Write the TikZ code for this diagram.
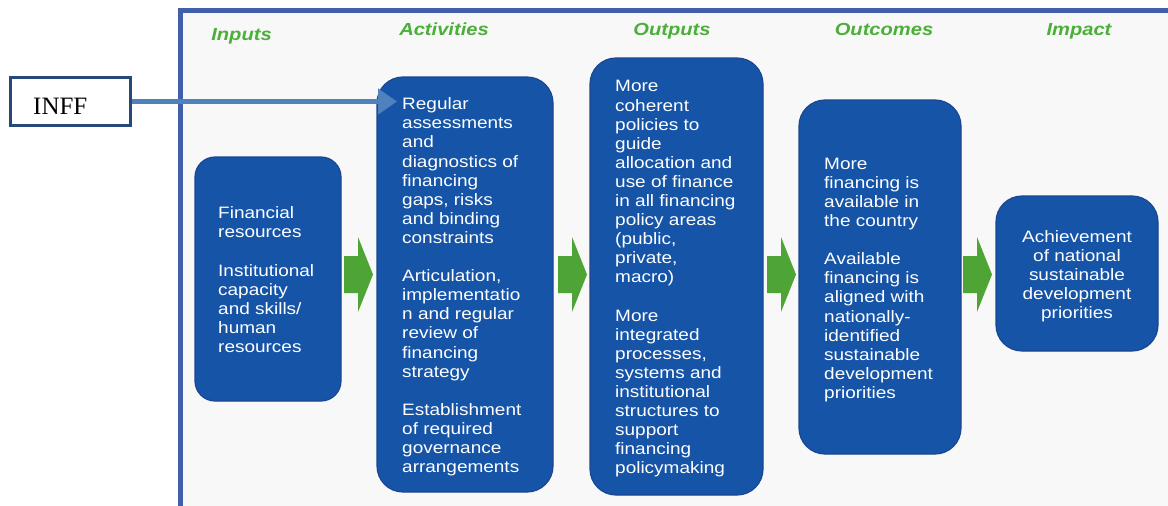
\documentclass[tikz,border=0pt]{standalone}
\usepackage{fontspec}
\setmainfont{Liberation Serif}
\newfontfamily\boxfont{Liberation Sans}[FakeStretch=1.15]
\usetikzlibrary{arrows.meta}
\definecolor{boxblue}{HTML}{1654A8}
\definecolor{boxedge}{HTML}{1C4690}
\definecolor{framec}{HTML}{4060AC}
\definecolor{bgc}{HTML}{F8F8F8}
\definecolor{garc}{HTML}{4EA536}
\definecolor{hdrc}{HTML}{4CAF3A}
\definecolor{inffarr}{HTML}{4F81BD}
\definecolor{inffedge}{HTML}{27497A}
\newcommand\mytopstrut{\rule{0pt}{13pt}}
\begin{document}
\begin{tikzpicture}[x=1pt,y=-1pt,
  stage/.style={draw=boxedge, line width=1.2pt, fill=boxblue, rounded corners=#1, inner sep=0pt},
  stage/.default=26pt,
  boxtext/.style={text=white, font=\boxfont\fontsize{16.5}{19.1}\selectfont, inner sep=0pt},
  hdr/.style={text=hdrc, font=\boxfont\bfseries\itshape\fontsize{17.5}{20}\selectfont, inner sep=0pt, anchor=base},
  garrow/.pic={\fill[garc] (0,-18.5) -- (14,-18.5) -- (14,-37.5) -- (29,0) -- (14,37.5) -- (14,18.5) -- (0,18.5) -- cycle;}
]
\clip (0,0) rectangle (1168,506);
\fill[white] (0,0) rectangle (1168,506);
\fill[bgc] (183,13) rectangle (1168,506);
\draw[framec, line width=5pt] (180.5,520) -- (180.5,10.5) -- (1190,10.5);

% headers
\node[hdr] (hIn) at (241.5,40) {Inputs};
\node[hdr] (hAct) at (444,35.5) {Activities};
\node[hdr] (hOut) at (672,35.5) {Outputs};
\node[hdr] (hOc) at (884,35.5) {Outcomes};
\node[hdr] (hImp) at (1079,35.5) {Impact};

% stage boxes
\node[stage=20pt, minimum width=146pt, minimum height=244pt] (inp) at (268,279) {};
\node[stage, minimum width=176pt, minimum height=415pt] (act) at (465,284.5) {};
\node[stage, minimum width=173pt, minimum height=437pt] (outp) at (676.5,276.5) {};
\node[stage, minimum width=162pt, minimum height=354pt] (outc) at (880,277) {};
\node[stage, minimum width=162pt, minimum height=155pt] (imp) at (1077,273.5) {};

% texts
\node[boxtext, align=left, anchor=north west] (inpT) at (218,205.5) {\mytopstrut Financial\\ resources\\[19.1pt] Institutional\\ capacity\\ and skills/\\ human\\ resources};
\node[boxtext, align=left, anchor=north west] (actT) at (402,96.5) {\mytopstrut Regular\\ assessments\\ and\\ diagnostics of\\ financing\\ gaps, risks\\ and binding\\ constraints\\[19.1pt] Articulation,\\ implementatio\\ n and regular\\ review of\\ financing\\ strategy\\[19.1pt] Establishment\\ of required\\ governance\\ arrangements};
\node[boxtext, align=left, anchor=north west] (outpT) at (615,78.7) {\mytopstrut More\\ coherent\\ policies to\\ guide\\ allocation and\\ use of finance\\ in all financing\\ policy areas\\ (public,\\ private,\\ macro)\\[19.1pt] More\\ integrated\\ processes,\\ systems and\\ institutional\\ structures to\\ support\\ financing\\ policymaking};
\node[boxtext, align=left, anchor=north west] (outcT) at (824,156) {\mytopstrut More\\ financing is\\ available in\\ the country\\[19.1pt] Available\\ financing is\\ aligned with\\ nationally-\\ identified\\ sustainable\\ development\\ priorities};
\node[boxtext, align=center, anchor=north] (impT) at (1077,229.3) {\mytopstrut Achievement\\ of national\\ sustainable\\ development\\ priorities};

% green arrows
\pic at (344,274.5) {garrow};
\pic at (558,274.5) {garrow};
\pic at (767,274.5) {garrow};
\pic at (963,274.5) {garrow};

% INFF
\node[draw=inffedge, line width=3pt, fill=white, minimum width=120pt, minimum height=48pt, inner sep=0pt] (inff) at (70.5,101.5) {};
\node[font=\fontsize{25}{30}\selectfont, inner sep=0pt, anchor=base west] (inffT) at (33,114) {INFF};
\coordinate (tip) at (397,101.5);
\draw[inffarr, line width=5.5pt, -{Triangle[length=19pt,width=25pt]}] (inff.east) -- (tip);
\end{tikzpicture}
\end{document}
